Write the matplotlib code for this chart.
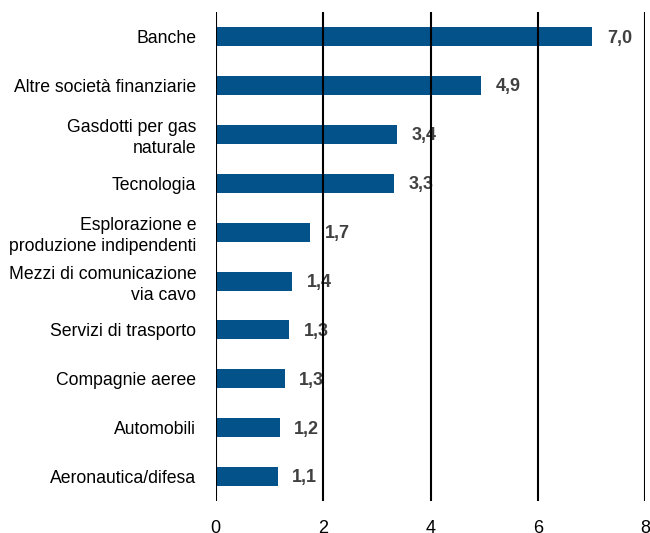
import matplotlib
matplotlib.use("Agg")
import matplotlib.pyplot as plt

categories = ["Banche", "Altre società finanziarie", "Gasdotti per gas\nnaturale",
              "Tecnologia", "Esplorazione e\nproduzione indipendenti",
              "Mezzi di comunicazione\nvia cavo", "Servizi di trasporto",
              "Compagnie aeree", "Automobili", "Aeronautica/difesa"]
values = [7.01, 4.94, 3.38, 3.31, 1.76, 1.42, 1.36, 1.28, 1.19, 1.15]
value_labels = ["7,0", "4,9", "3,4", "3,3", "1,7", "1,4", "1,3", "1,3", "1,2", "1,1"]
xticks = [0, 2, 4, 6, 8]

plt.rcParams["font.family"] = ["Liberation Sans", "DejaVu Sans"]

fig = plt.figure(figsize=(6.5, 5.33), dpi=100)
ax = fig.add_axes([0.332, 0.060, 0.661, 0.917])

ypos = list(range(len(categories)))
ax.barh(ypos, values, height=0.39, color="#03528a", zorder=2)
for y, v, lab in zip(ypos, values, value_labels):
    ax.annotate(lab, (v, y), xytext=(10.5, -1), textcoords="offset points",
                ha="left", va="center", fontsize=13, fontweight="bold",
                color="#404040", zorder=3)

ax.set_xlim(0, 8)
ax.set_ylim(len(categories) - 0.5, -0.5)
ax.set_xticks(xticks)
ax.set_xticklabels([str(t) for t in xticks], fontsize=13)
ax.set_yticks(ypos)
ax.set_yticklabels(categories, fontsize=12.7, linespacing=1.3)
ax.tick_params(axis="both", length=0)
ax.tick_params(axis="x", pad=13.5)
ax.tick_params(axis="y", pad=14)
for s in ax.spines.values():
    s.set_visible(False)
for t in xticks:
    ax.axvline(t, color="black", lw=1.5, zorder=5)

fig.savefig("out.png", dpi=100)
